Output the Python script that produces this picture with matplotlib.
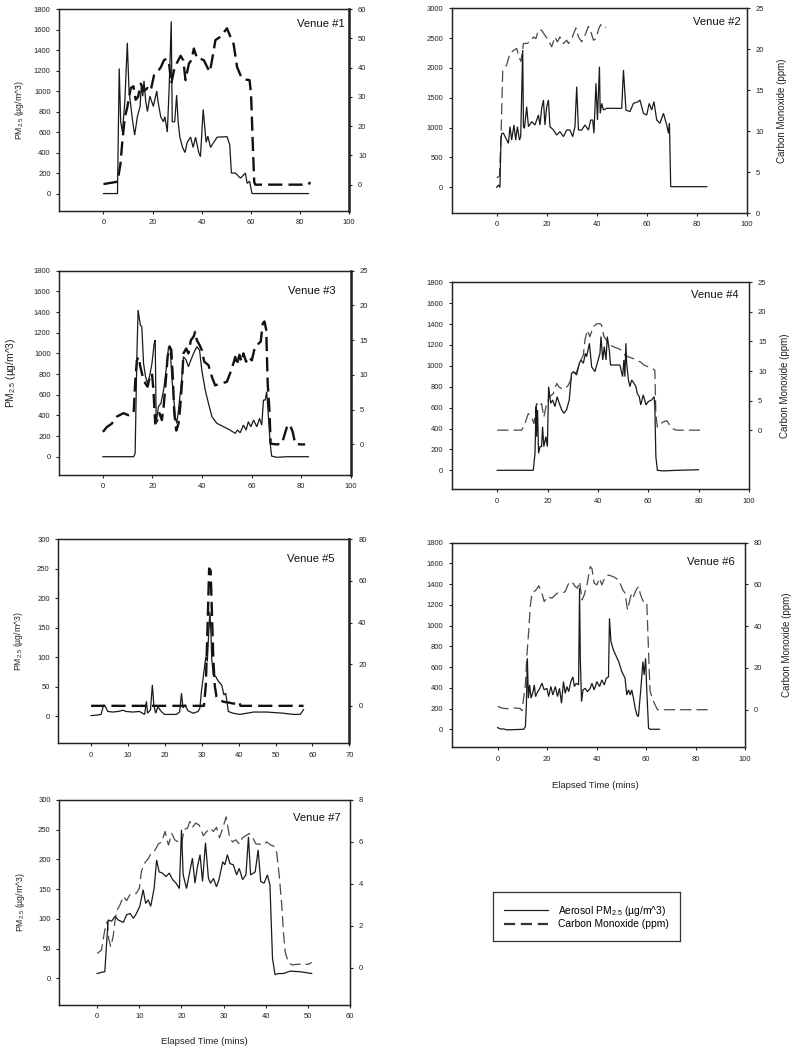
import matplotlib.pyplot as plt
from matplotlib.lines import Line2D

plt.rcParams['font.family'] = ['Liberation Sans', 'DejaVu Sans']
plt.rcParams['mathtext.fontset'] = 'custom'
plt.rcParams['mathtext.rm'] = 'Liberation Sans'
plt.rcParams['mathtext.it'] = 'Liberation Sans:italic'

# ---- Venue #1 ----
v1_pm_t = [0, 5.7, 6.4, 7.0, 7.7, 8.7, 9.7, 10.4, 11.4, 11.9,
           12.7, 13.8, 14.9, 15.4, 16.0, 16.5, 17.2, 17.9, 18.9, 20.3,
           21.7, 22.2, 23.3, 24.4, 25.0, 26.0, 26.7, 27.6, 28.0, 29.0,
           29.8, 30.4, 31.1, 32.2, 33.2, 34.1, 35.5, 36.5, 37.5, 38.8,
           39.5, 40.6, 41.8, 42.5, 43.6, 44.9, 46.3, 50.3, 51.4, 52.1,
           53.7, 55.8, 57.8, 58.5, 59.5, 60.5, 83.5]
v1_pm = [0, 0, 1220, 700, 600, 900, 1470, 1000, 800, 700,
         570, 750, 850, 1050, 950, 1100, 900, 800, 950, 850,
         1000, 900, 750, 700, 750, 600, 1000, 1680, 700, 700,
         960, 700, 550, 450, 400, 500, 550, 450, 550, 400,
         360, 820, 500, 560, 450, 500, 550, 555, 480, 200,
         200, 150, 200, 100, 120, 0, 0]
v1_co_t = [0, 5.7, 6.9, 7.7, 8.7, 9.7, 11.1, 12.2, 13.1, 14.1,
           15.2, 16.5, 17.9, 19.2, 20.6, 21.9, 23.3, 24.6, 25.7, 26.7,
           27.6, 28.7, 29.8, 31.4, 32.5, 33.4, 34.8, 35.8, 36.8, 38.2,
           39.5, 40.9, 42.2, 43.3, 44.2, 45.6, 47.6, 50.3, 51.7, 53.0,
           54.4, 55.8, 57.1, 59.5, 60.1, 60.9, 61.4, 61.8, 83.5, 84.2]
v1_co = [0.2, 1.0, 7, 15, 23, 26.5, 33, 33.6, 29, 30,
         34.5, 32, 33, 32, 37.4, 38.5, 40, 42.5, 43, 41.4,
         34.5, 39, 41.4, 44, 42.5, 35.7, 41.4, 42.5, 46.5, 43,
         43, 42.5, 40.2, 38.5, 42.5, 49.4, 50.5, 53.4, 50.5, 48,
         40.2, 37.4, 36, 35.7, 31, 11.7, 0.9, 0, 0, 0.9]

# ---- Venue #2 ----
v2_pm_t = [0, 0.7, 1.3, 1.7, 2.0, 2.7, 3.7, 4.7, 5.3, 6.0,
           6.9, 7.6, 8.3, 9.1, 9.6, 10.4, 10.7, 11.1, 12.0, 12.7,
           14.0, 15.3, 16.7, 17.3, 18.0, 18.7, 19.3, 20.0, 20.7, 21.3,
           22.7, 24.0, 25.3, 26.7, 28.0, 29.3, 30.4, 31.3, 32.0, 32.7,
           34.0, 35.3, 36.7, 37.6, 38.4, 38.9, 39.7, 40.3, 41.1, 41.4,
           42.0, 42.7, 44.0, 46.7, 50.0, 50.7, 51.7, 53.3, 54.7, 56.7,
           57.3, 58.7, 60.0, 61.0, 62.0, 62.9, 64.0, 65.3, 66.7, 68.0,
           68.7, 69.1, 69.6, 84.0]
v2_pm = [0, 40, 0, 793, 905, 905, 820, 737, 1017, 793,
         1045, 793, 1017, 793, 850, 2300, 1017, 990, 1350, 1017,
         1100, 1045, 1212, 1045, 1326, 1464, 1045, 1350, 1464, 1017,
         960, 877, 933, 850, 960, 960, 850, 1017, 1687, 960,
         960, 1045, 960, 1128, 1128, 905, 1743, 1128, 2022, 1240,
         1407, 1296, 1324, 1324, 1324, 1966, 1296, 1268, 1407, 1436,
         1464, 1240, 1212, 1407, 1296, 1436, 1128, 1073, 1240, 1045,
         905, 1073, 11, 11]
v2_co_t = [0, 1.1, 1.7, 2.4, 4.0, 5.3, 6.9, 8.0, 9.1, 9.7,
           10.7, 12.0, 13.3, 14.7, 15.7, 16.7, 18.0, 19.3, 20.7, 22.0,
           23.3, 24.3, 25.3, 26.7, 28.0, 28.7, 30.0, 30.9, 31.7, 32.7,
           34.0, 35.3, 36.7, 37.6, 38.7, 39.7, 40.7, 41.6, 42.7, 43.7]
v2_co = [4.3, 4.5, 8.9, 17.3, 18.1, 19.5, 19.9, 20.1, 18.9, 18.5,
         20.7, 20.7, 20.9, 21.5, 21.3, 22.4, 22.3, 21.7, 21.1, 20.3,
         21.5, 20.9, 21.5, 20.7, 21.1, 20.7, 21.3, 22.0, 22.6, 21.5,
         20.9, 21.7, 22.8, 22.2, 21.1, 21.3, 22.4, 23.0, 22.6, 22.7]

# ---- Venue #3 ----
v3_pm_t = [0, 12.4, 13.0, 13.7, 14.2, 15.1, 15.7, 16.4, 17.2, 18.0,
           18.8, 19.8, 20.7, 21.1, 21.5, 22.4, 23.4, 24.5, 25.5, 26.5,
           27.2, 27.8, 28.5, 29.2, 29.8, 30.5, 31.2, 31.9, 32.5, 33.6,
           34.5, 35.5, 36.6, 37.9, 39.0, 39.9, 41.3, 42.6, 44.0, 46.0,
           48.7, 51.3, 53.4, 54.3, 55.4, 56.7, 57.8, 58.7, 59.7, 60.8,
           62.1, 63.2, 64.1, 64.8, 65.5, 66.1, 66.8, 67.5, 68.1, 70.2,
           74.2, 82.9]
v3_pm = [0, 0, 32, 968, 1419, 1274, 1258, 903, 774, 710,
         774, 903, 1097, 1129, 323, 484, 516, 645, 839, 1065,
         1032, 774, 581, 387, 323, 452, 613, 774, 968, 935,
         871, 935, 1000, 1065, 1032, 839, 645, 516, 387, 323,
         290, 258, 226, 258, 232, 306, 258, 339, 290, 355,
         290, 371, 306, 548, 548, 629, 387, 129, 6, -6,
         0, 0]
v3_co_t = [0, 1.6, 3.6, 5.6, 8.3, 10.3, 12.4, 13.0, 13.7, 14.4,
           15.1, 16.1, 17.1, 18.0, 19.1, 19.8, 20.4, 21.1, 22.0, 22.8,
           23.8, 24.5, 25.3, 26.1, 26.9, 27.6, 28.2, 28.8, 29.6, 30.5,
           31.2, 31.9, 32.5, 33.6, 34.5, 35.5, 36.6, 37.2, 37.9, 39.0,
           39.9, 40.9, 42.6, 44.0, 45.3, 48.0, 50.0, 51.3, 52.7, 53.4,
           54.0, 55.1, 56.0, 56.7, 57.8, 58.7, 60.1, 61.4, 62.8, 63.7,
           64.5, 65.2, 65.9, 66.5, 67.2, 67.7, 70.2, 72.2, 73.5, 74.5,
           75.5, 76.6, 77.6, 79.6, 81.6]
v3_co = [1.8, 2.5, 3.0, 4.0, 4.5, 4.2, 4.5, 8.8, 12.1, 12.6,
         11.2, 9.7, 8.8, 8.3, 10.0, 10.2, 7.8, 3.0, 3.5, 4.5,
         3.5, 5.4, 8.8, 12.6, 14.1, 13.6, 9.7, 4.5, 2.0, 3.0,
         5.4, 8.8, 13.1, 13.8, 13.1, 15.0, 15.5, 16.2, 15.0, 14.3,
         13.6, 11.9, 11.4, 9.7, 8.5, 8.8, 9.0, 10.2, 11.7, 12.6,
         11.4, 12.9, 11.9, 13.1, 11.9, 12.6, 12.1, 14.1, 14.5, 14.8,
         17.4, 17.7, 16.5, 8.8, 4.9, 0.1, 0, 0.1, 1.6, 2.8,
         2.8, 1.8, 0.1, 0, 0]

# ---- Venue #4 ----
v4_pm_t = [0, 14.3, 15.0, 15.4, 15.6, 16.0, 16.4, 17.0, 17.6, 18.0,
           18.5, 19.3, 19.9, 20.4, 21.2, 22.0, 22.9, 23.8, 24.6, 25.6,
           26.5, 27.5, 28.6, 29.5, 30.2, 30.9, 31.5, 32.6, 33.2, 34.2,
           35.0, 35.5, 36.6, 37.5, 38.8, 39.7, 40.8, 41.2, 41.9, 42.5,
           43.2, 43.7, 44.5, 45.0, 48.7, 49.8, 50.3, 50.7, 51.1, 51.4,
           52.1, 52.7, 53.4, 54.3, 55.1, 55.6, 56.4, 57.0, 58.0, 59.1,
           60.0, 61.3, 62.3, 62.6, 63.0, 63.6, 66.0, 71.3, 79.9]
v4_pm = [0, 0, 163, 610, 322, 578, 163, 227, 227, 418,
         227, 322, 227, 801, 642, 673, 610, 705, 642, 578,
         546, 578, 673, 929, 945, 929, 913, 1025, 1056, 1025,
         1120, 1088, 1216, 990, 945, 1025, 1120, 1280, 1056, 1184,
         1056, 1280, 1152, 1008, 1008, 897, 1056, 897, 1216, 1025,
         865, 801, 865, 833, 801, 737, 705, 626, 722, 626,
         658, 673, 705, 610, 131, 0, -6, 0, 5]
v4_co_t = [0, 9.7, 11.0, 12.3, 13.6, 14.6, 15.6, 16.7, 17.6, 18.5,
           19.6, 20.7, 22.3, 23.6, 24.6, 25.6, 26.9, 28.2, 29.1, 30.2,
           31.5, 32.8, 34.2, 34.8, 35.8, 36.8, 38.1, 39.7, 40.8, 41.4,
           42.4, 43.4, 44.8, 46.1, 48.1, 49.4, 50.7, 52.1, 54.0, 55.4,
           57.0, 58.3, 60.0, 61.7, 62.6, 63.0, 63.6, 64.9, 66.0, 67.3,
           68.6, 69.9, 71.3, 81.2]
v4_co = [0, 0, 1.1, 2.8, 2.2, 1.1, 4.5, 3.9, 4.5, 2.2,
         4.5, 5.6, 6.2, 7.9, 7.3, 7.0, 7.0, 7.6, 8.4, 9.6,
         9.8, 11.5, 12.7, 15.2, 16.9, 15.8, 17.5, 18.0, 18.0, 17.8,
         15.8, 15.2, 14.4, 14.1, 13.8, 13.5, 12.7, 12.4, 12.1, 11.8,
         11.5, 11.0, 10.7, 10.4, 10.1, 2.8, 0.5, 1.1, 1.4, 1.6,
         0.8, 0.2, 0, 0]

# ---- Venue #5 ----
v5_pm_t = [0, 1.8, 2.7, 3.4, 3.9, 4.5, 5.9, 7.3, 8.6, 9.5,
           11.3, 13.1, 14.5, 15.0, 15.3, 16.1, 16.6, 17.0, 17.5, 18.1,
           19.0, 19.9, 21.3, 23.1, 24.0, 24.5, 24.9, 25.4, 26.3, 27.7,
           29.0, 29.5, 29.9, 30.6, 31.1, 31.5, 31.8, 32.2, 32.5, 32.7,
           33.1, 33.8, 34.5, 35.4, 36.0, 36.5, 37.2, 38.5, 40.3, 42.2,
           44.0, 47.6, 52.1, 54.9, 56.7, 57.6]
v5_pm = [1, 2, 3, 19, 16, 8, 7, 8, 10, 8,
         7, 8, 3, 25, 5, 11, 53, 19, 5, 16,
         8, 3, 3, 3, 7, 39, 14, 19, 9, 5,
         8, 14, 42, 76, 101, 93, 132, 177, 138, 98,
         70, 67, 59, 53, 36, 39, 8, 5, 3, 5,
         7, 7, 5, 3, 3, 11]
v5_co_t = [0, 30.6, 31.1, 31.6, 32.0, 32.4, 32.7, 33.1, 33.5, 34.0,
           34.9, 36.0, 37.2, 38.5, 39.6, 40.1, 40.5, 57.6]
v5_co = [0, 0, 9.9, 40, 66, 65, 48, 24, 10, 4.3,
         2.7, 1.9, 1.6, 1.1, 1.1, 1.9, 0, 0]

# ---- Venue #6 ----
v6_pm_t = [0, 1.1, 2.4, 3.8, 10.5, 11.2, 11.6, 12.0, 12.4, 12.9,
           13.5, 14.3, 14.8, 15.3, 16.2, 17.0, 17.9, 18.8, 19.9, 20.6,
           21.5, 22.3, 23.3, 24.2, 25.0, 25.8, 26.6, 27.3, 28.0, 28.7,
           29.6, 30.4, 31.0, 31.8, 32.7, 33.1, 33.4, 33.9, 34.5, 35.4,
           36.3, 37.4, 38.1, 39.0, 40.1, 41.2, 42.1, 43.1, 43.9, 44.8,
           45.2, 45.8, 46.8, 48.9, 50.2, 51.5, 52.2, 52.9, 53.6, 54.2,
           54.9, 55.6, 56.3, 56.9, 57.9, 58.7, 59.2, 59.8, 60.3, 61.0,
           61.6, 65.4]
v6_pm = [16, 3, 3, -6, 0, 26, 235, 685, 300, 428,
         300, 363, 428, 315, 363, 395, 444, 380, 395, 315,
         412, 331, 412, 315, 395, 251, 460, 347, 412, 363,
         460, 505, 412, 444, 428, 1360, 685, 267, 380, 395,
         363, 395, 444, 380, 460, 412, 476, 428, 492, 505,
         1070, 846, 765, 653, 556, 492, 331, 380, 331, 380,
         300, 203, 138, 122, 395, 653, 524, 685, 363, 10,
         0, 0]
v6_co_t = [0, 1.7, 3.8, 5.8, 7.8, 9.2, 9.8, 11.2, 11.8, 12.5,
           13.2, 13.9, 15.2, 15.9, 16.6, 17.9, 18.8, 20.2, 21.9, 24.0,
           26.0, 27.3, 28.7, 30.0, 31.3, 32.3, 33.1, 34.1, 35.0, 36.1,
           37.4, 38.1, 39.0, 40.1, 41.2, 42.1, 43.5, 44.8, 46.8, 48.9,
           50.6, 51.5, 52.5, 53.6, 54.2, 54.9, 56.0, 56.9, 57.6, 58.3,
           59.2, 60.3, 61.0, 61.6, 63.0, 64.6, 85.2]
v6_co = [1.6, 0.8, 0.5, 0.8, 0.8, 0.5, -0.5, 12, 26, 37,
         50, 56, 57, 58, 59.4, 55.8, 51.8, 54.2, 53.4, 55.8,
         55.8, 56.6, 60.6, 61.4, 59, 58.2, 61.4, 52.6, 55, 59.8,
         68.5, 67.7, 60.6, 59.8, 63, 59.8, 63.7, 64.5, 63.7, 62.2,
         57.4, 55.8, 47.8, 53.4, 55.8, 54.2, 57.4, 59, 55.8, 53.4,
         51, 51, 27.9, 8.8, 4, 0, 0]

# ---- Venue #7 ----
v7_pm_t = [0, 1.0, 1.8, 2.2, 2.6, 3.4, 4.2, 5.0, 6.2, 7.0,
           7.8, 8.6, 9.3, 10.1, 10.9, 11.5, 12.1, 12.7, 13.5, 14.1,
           14.7, 15.5, 16.3, 17.1, 17.9, 18.7, 19.5, 20.0, 20.4, 21.2,
           21.9, 22.6, 23.2, 23.8, 24.4, 25.0, 25.7, 26.4, 26.9, 27.6,
           28.3, 28.9, 29.8, 30.3, 30.9, 31.5, 32.3, 33.1, 33.7, 34.5,
           35.3, 35.9, 36.4, 37.5, 38.2, 38.8, 39.6, 40.4, 41.0, 41.6,
           42.2, 43.0, 44.2, 45.8, 48.1, 50.9]
v7_pm = [8, 10, 11, 56, 98, 96, 104, 98, 94, 107,
         109, 101, 109, 121, 149, 126, 132, 121, 151, 199,
         179, 177, 171, 177, 166, 160, 151, 250, 174, 151,
         177, 202, 160, 188, 208, 163, 228, 168, 160, 168,
         154, 166, 196, 191, 208, 193, 191, 174, 185, 166,
         174, 238, 174, 179, 216, 163, 160, 174, 157, 34,
         6, 8, 8, 12, 11, 8]
v7_co_t = [0, 1.0, 1.8, 2.4, 2.7, 3.2, 3.8, 4.2, 4.6, 5.4,
           6.2, 7.0, 7.8, 9.3, 10.0, 10.5, 11.3, 12.1, 12.9, 13.7,
           14.5, 15.3, 16.1, 16.9, 17.7, 18.4, 19.2, 20.0, 20.6, 21.4,
           22.0, 22.6, 23.4, 24.2, 25.2, 26.0, 26.8, 27.6, 28.3, 29.0,
           29.8, 30.6, 31.4, 32.1, 32.9, 33.7, 34.5, 35.3, 36.1, 36.9,
           37.7, 38.5, 39.4, 40.2, 41.2, 41.9, 42.6, 43.2, 43.8, 44.2,
           44.6, 45.3, 46.2, 47.3, 48.9, 50.1, 50.9]
v7_co = [0.68, 0.84, 1.8, 2.2, 1.4, 1.0, 1.5, 2.2, 2.7, 3.0,
         3.4, 3.2, 3.5, 3.55, 3.8, 4.6, 5.0, 5.2, 5.5, 5.6,
         5.9, 6.0, 6.5, 5.85, 6.4, 6.1, 6.0, 5.85, 6.6, 6.65,
         6.97, 6.7, 6.9, 6.8, 6.3, 6.5, 6.65, 6.5, 6.7, 6.2,
         6.65, 7.2, 6.25, 6.0, 6.1, 5.9, 6.2, 6.3, 6.4, 6.2,
         5.9, 5.9, 5.85, 6.0, 5.85, 5.8, 5.5, 4.4, 3.0, 1.7,
         0.76, 0.29, 0.13, 0.16, 0.17, 0.16, 0.25]

PM_LABEL = 'PM$_{2.5}$ (µg/m^3)'
CO_LABEL = 'Carbon Monoxide (ppm)'
TIME_LABEL = 'Elapsed Time (mins)'

W, H = 792, 1050
fig = plt.figure(figsize=(W / 100, H / 100), dpi=100)


def px_axes(left, top, right, bottom):
    """Create an axes from a pixel box (origin top-left)."""
    return fig.add_axes([left / W, 1 - bottom / H, (right - left) / W, (bottom - top) / H])


def style_ticks(ax, side):
    ax.tick_params(axis='both', which='both', direction='out', length=2.5,
                   width=0.8, labelsize=5.5, pad=4, colors='#222')
    ax.tick_params(axis='x', top=False, pad=3.5)
    if side == 'left':
        ax.tick_params(axis='y', right=False, length=2.2)


def draw_venue(box, pm_t, pm, co_t, co, xlim, xticks, pm_lim, pm_ticks,
               co_lim, co_ticks, heavy, title, title_pos, pm_lab=None,
               co_lab=None, xlab=None):
    ax = px_axes(*box)
    ax2 = ax.twinx()
    ax.set_zorder(ax2.get_zorder() + 1)
    ax.patch.set_visible(False)

    ax.plot(pm_t, pm, color='#1a1a1a', lw=0.9, solid_joinstyle='miter')
    if heavy:
        ax2.plot(co_t, co, color='#111111', lw=1.7, dashes=(6, 2.6))
    else:
        ax2.plot(co_t, co, color='#4a4a4a', lw=0.9, dashes=(9, 4))

    ax.set_xlim(*xlim)
    ax.set_xticks(xticks)
    ax.set_ylim(*pm_lim)
    ax.set_yticks(pm_ticks)
    ax2.set_ylim(*co_lim)
    ax2.set_yticks(co_ticks)
    style_ticks(ax, 'left')
    style_ticks(ax2, 'right')

    for a in (ax, ax2):
        for s in a.spines.values():
            s.set_linewidth(0.9)
            s.set_color('#222')
    if heavy:
        ax2.spines['right'].set_linewidth(1.8)

    ax.text(title_pos[0], title_pos[1], title, transform=ax.transAxes,
            ha='right', va='center', fontsize=8.1, color='#111')
    if pm_lab is not None:
        ax.text(pm_lab[0], 0.5, PM_LABEL, transform=ax.transAxes, rotation=90,
                ha='center', va='center', fontsize=pm_lab[1], color='#222')
    if co_lab is not None:
        ax.text(co_lab, 0.5, CO_LABEL, transform=ax.transAxes, rotation=90,
                ha='center', va='center', fontsize=7, color='#222')
    if xlab is not None:
        ax.text(xlab[0], xlab[1], TIME_LABEL, transform=ax.transAxes,
                ha='center', va='center', fontsize=6.8, color='#222')
    return ax


x100 = [0, 20, 40, 60, 80, 100]
pm1800 = list(range(0, 1801, 200))

draw_venue((59.3, 9, 349, 211), v1_pm_t, v1_pm, v1_co_t, v1_co,
           (-18, 100), x100, (-170, 1800), pm1800, (-9, 60), list(range(0, 61, 10)),
           True, 'Venue #1', (0.986, 0.926), pm_lab=(-0.136, 6.2))

draw_venue((451.7, 8.3, 746.7, 213), v2_pm_t, v2_pm, v2_co_t, v2_co,
           (-18, 100), x100, (-430, 3000), list(range(0, 3001, 500)), (0, 25), list(range(0, 26, 5)),
           False, 'Venue #2', (0.98, 0.935), co_lab=1.119)

draw_venue((59.3, 270.7, 350.7, 475), v3_pm_t, v3_pm, v3_co_t, v3_co,
           (-17.6, 100), x100, (-177, 1800), pm1800, (-4.4, 25), list(range(0, 26, 5)),
           True, 'Venue #3', (0.948, 0.902), pm_lab=(-0.166, 7.4))

draw_venue((451.7, 282.3, 749, 489.3), v4_pm_t, v4_pm, v4_co_t, v4_co,
           (-18.1, 100), x100, (-182, 1800), pm1800, (-10, 25), list(range(0, 26, 5)),
           False, 'Venue #4', (0.964, 0.939), co_lab=1.121)

draw_venue((58.3, 539.3, 349.3, 743.3), v5_pm_t, v5_pm, v5_co_t, v5_co,
           (-8.9, 70), list(range(0, 71, 10)), (-46, 300), list(range(0, 301, 50)),
           (-18, 80), list(range(0, 81, 20)),
           True, 'Venue #5', (0.949, 0.903), pm_lab=(-0.138, 6.2))

draw_venue((451.7, 542.7, 745, 747.3), v6_pm_t, v6_pm, v6_co_t, v6_co,
           (-18.6, 100), x100, (-174, 1800), pm1800, (-18, 80), list(range(0, 81, 20)),
           False, 'Venue #6', (0.966, 0.907), co_lab=1.142, xlab=(0.49, -0.185))

draw_venue((59.3, 800, 350, 1005), v7_pm_t, v7_pm, v7_co_t, v7_co,
           (-9, 60), list(range(0, 61, 10)), (-45, 300), list(range(0, 301, 50)),
           (-1.78, 8), [0, 2, 4, 6, 8],
           False, 'Venue #7', (0.968, 0.911), pm_lab=(-0.135, 6.2), xlab=(0.5, -0.178))

# Legend box in the empty bottom-right slot
leg_ax = px_axes(493.3, 892, 680, 941)
leg_ax.set_xticks([])
leg_ax.set_yticks([])
for s in leg_ax.spines.values():
    s.set_linewidth(0.9)
    s.set_color('#333')
handles = [Line2D([], [], color='#222', lw=0.9),
           Line2D([], [], color='#333', lw=1.6, dashes=(5, 2.6))]
leg_ax.legend(handles, ['Aerosol PM$_{2.5}$ (µg/m^3)', CO_LABEL], loc='center',
              frameon=False, fontsize=7.4, handlelength=4.2, handletextpad=1.0,
              labelspacing=0.15, borderpad=0)

fig.savefig('out.png', dpi=100)
